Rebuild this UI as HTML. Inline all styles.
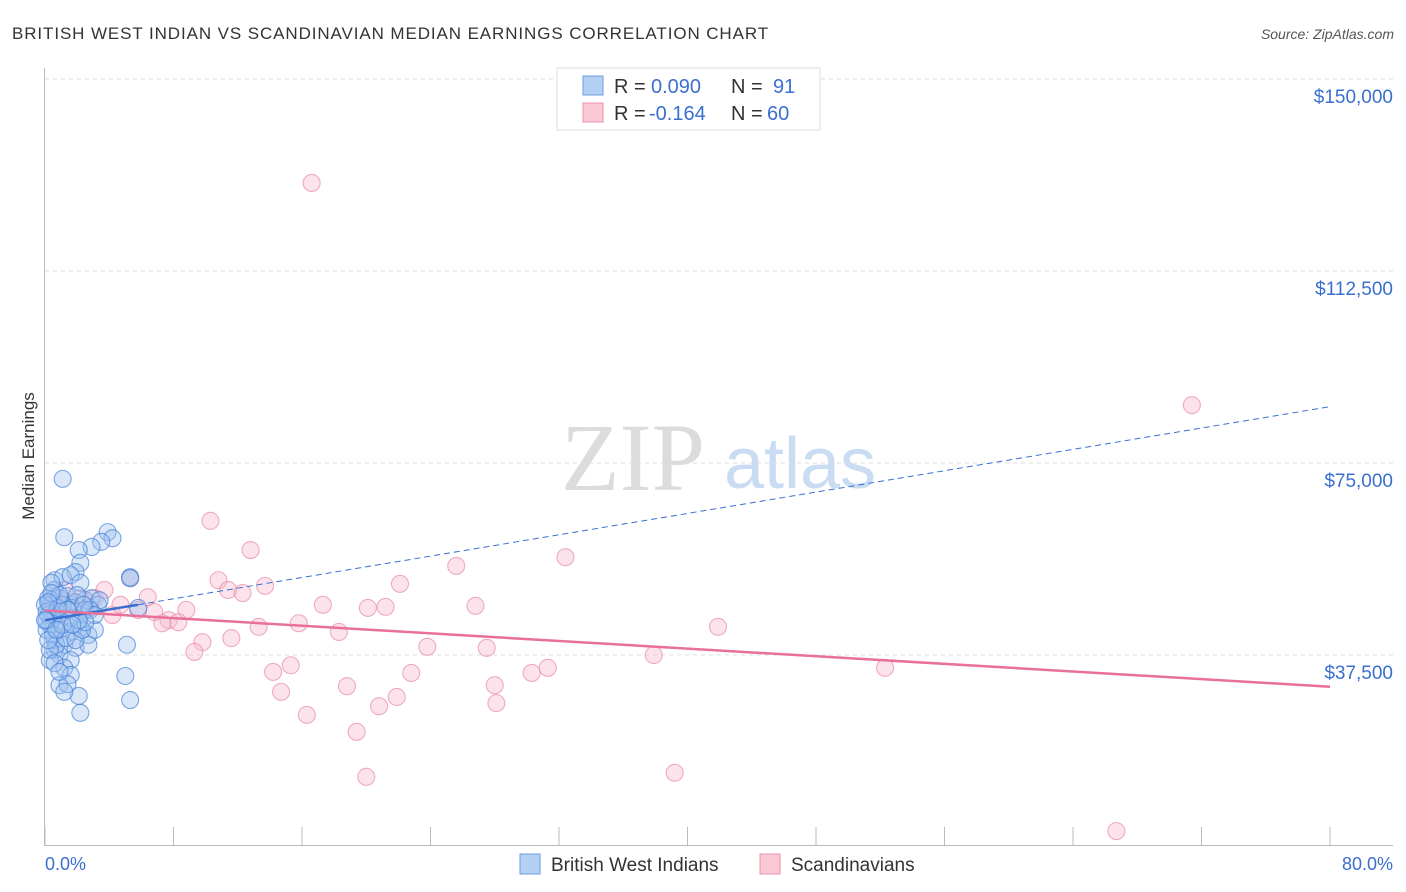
<!DOCTYPE html>
<html><head><meta charset="utf-8"><style>
body{margin:0;background:#fff;font-family:"Liberation Sans",sans-serif}
svg{display:block}
</style></head><body>
<svg id="chart" width="1406" height="892">
<text x="12" y="39" font-size="17" fill="#333" letter-spacing="0.9">BRITISH WEST INDIAN VS SCANDINAVIAN MEDIAN EARNINGS CORRELATION CHART</text>
<text x="1394" y="39" font-size="14" fill="#555" font-style="italic" text-anchor="end">Source: ZipAtlas.com</text>
<text transform="translate(34,456) rotate(-90)" font-size="17" fill="#333" text-anchor="middle">Median Earnings</text>
<g><text x="633" y="490" font-family="Liberation Serif,serif" font-size="96" fill="#dcdcdc" text-anchor="middle">ZIP</text><text x="800" y="488" font-size="72" fill="#c9dcf3" text-anchor="middle">atlas</text></g>
<g id="grid"></g><g id="axes"></g><g id="pts"></g><g id="lines"></g>
<g>
<rect x="557" y="68" width="263" height="62" fill="#fff" stroke="#ddd"/>
<rect x="583" y="76" width="20" height="19" fill="#b5d0f5" stroke="#6b9de0"/>
<rect x="583" y="103" width="20" height="19" fill="#fbc8d6" stroke="#e890a8"/>
<text x="614" y="93" font-size="20" fill="#333">R = <tspan fill="#3a6fd0" x="651">0.090</tspan><tspan x="731">N = </tspan><tspan fill="#3a6fd0" x="773">91</tspan></text>
<text x="614" y="120" font-size="20" fill="#333">R = <tspan fill="#3a6fd0" x="649">-0.164</tspan><tspan x="731">N = </tspan><tspan fill="#3a6fd0" x="767">60</tspan></text>
</g>
<g>
<rect x="520" y="854" width="20" height="20" fill="#b5d0f5" stroke="#6b9de0"/>
<text x="551" y="871" font-size="19" fill="#333">British West Indians</text>
<rect x="760" y="854" width="20" height="20" fill="#fbc8d6" stroke="#e890a8"/>
<text x="791" y="871" font-size="19" fill="#333">Scandinavians</text>
</g>
<text x="45" y="870" font-size="18" fill="#3a6fd0">0.0%</text>
<text x="1393" y="870" font-size="18" fill="#3a6fd0" text-anchor="end">80.0%</text>
</svg>
<script>
const yTicks=[150000,112500,75000,37500];
const yTickLabels=["$150,000","$112,500","$75,000","$37,500"];
const xTickPcts=[0,8,16,24,32,40,48,56,64,72,80];
const blueX=[1.1,1.2,3.9,4.2,3.5,2.9,2.1,2.2,1.9,5.3,0.6,1.1,1.6,2.2,0.6,0.4,0.9,1.4,1.9,2.5,2.9,3.3,5.3,5.8,0.3,0.6,0.9,1.6,2.2,0.3,0.9,1.6,2.2,2.7,3.1,0.6,1.2,1.9,2.7,5.1,0.6,0.9,1.6,0.3,1.2,1.6,5.0,0.9,1.4,2.1,1.2,5.3,2.2,0.3,0.2,0.4,0.1,0.8,1.1,1.7,2.5,3.4,0.2,0.0,0.1,0.1,0.5,0.7,1.3,1.9,2.3,2.8,3.1,0.3,2.5,2.1,0.6,0.9,1.4,0.0,0.2,0.4,0.8,1.1,1.7,2.0,2.4,0.9,0.4,0.2,0.7];
const blueY=[71.9,60.5,61.5,60.3,59.6,58.6,58.0,55.5,53.7,52.7,52.1,52.7,53.1,51.6,50.2,48.2,48.6,49.0,47.8,48.2,48.6,47.3,52.5,46.7,46.3,45.3,44.3,44.7,45.3,43.4,42.4,42.0,42.8,41.4,42.4,40.4,39.5,38.9,39.5,39.5,38.5,37.5,36.5,36.5,35.0,33.6,33.4,31.6,31.8,29.5,30.3,28.7,26.2,47.3,45.3,44.3,42.4,46.3,47.3,46.7,46.3,48.2,48.6,47.3,45.9,44.3,41.4,39.5,40.8,40.4,42.4,46.3,45.3,38.5,43.9,44.3,35.9,34.2,46.3,44.3,40.4,51.6,46.7,43.4,43.4,49.2,47.3,49.2,49.6,47.8,42.4];
const pinkX=[16.6,71.4,10.3,12.8,32.4,25.6,10.8,13.7,22.1,5.3,3.7,11.4,12.3,6.4,3.1,17.3,26.8,20.1,21.2,8.8,6.8,4.2,7.7,8.3,7.3,15.8,13.3,18.3,41.9,11.6,9.8,23.8,27.5,9.3,37.9,15.3,14.2,31.3,30.3,22.8,52.3,14.7,18.8,28.0,21.9,20.8,28.1,16.3,19.4,20.0,39.2,66.7,0.9,1.6,2.2,2.8,0.3,4.7,1.2,5.8];
const pinkY=[129.7,86.3,63.7,58.0,56.6,54.9,52.1,51.0,51.4,52.5,50.2,50.2,49.6,48.8,48.6,47.3,47.1,46.7,46.9,46.3,45.9,45.3,44.3,43.9,43.7,43.7,43.0,42.0,43.0,40.8,40.0,39.1,38.9,38.1,37.5,35.5,34.2,35.0,34.0,34.0,35.0,30.3,31.4,31.6,29.3,27.5,28.1,25.8,22.5,13.7,14.5,3.1,48.2,47.3,48.6,46.7,46.3,47.3,50.2,46.3];
const blueTrend=[44.3,86.0];
const pinkTrend=[46.2,31.3];
const NS="http://www.w3.org/2000/svg";
const X0=45,X1=1330,Y0=847,PXK=192/37.5;
const xs=p=>X0+(p/80)*(X1-X0);
const ys=k=>Y0-k*PXK;
function mk(tag,attrs,parent){const e=document.createElementNS(NS,tag);for(const k in attrs)e.setAttribute(k,attrs[k]);document.getElementById(parent).appendChild(e);return e;}
yTicks.forEach((v,i)=>{
 const g=mk('line',{x1:45,x2:1393,y1:ys(v/1000),y2:ys(v/1000),stroke:'#ddd','stroke-dasharray':'4,4'},'grid');
 
 
 const t=mk('text',{x:1393,y:ys(v/1000)+24,'font-size':19,fill:'#3a6fd0','text-anchor':'end'},'grid');
 t.textContent=yTickLabels[i];
 
 
});
let a=mk('line',{x1:44.5,x2:44.5,y1:68,y2:846,stroke:'#bbb'},'axes');


a=mk('line',{x1:44,x2:1393,y1:845.5,y2:845.5,stroke:'#bbb'},'axes');


xTickPcts.forEach(p=>{const t=mk('line',{x1:xs(p),x2:xs(p),y1:827,y2:846,stroke:'#bbb'},'axes');
 
 });
function pts(X,Y,fill,stroke,name){X.forEach((x,i)=>{const c=mk('circle',{cx:xs(x),cy:ys(Y[i]),r:8.5,fill:fill,stroke:stroke,'stroke-width':1.1},'pts');
 
 });}
pts(pinkX,pinkY,'rgba(248,185,205,0.4)','rgba(232,140,170,0.7)','scandinavian-point');
pts(blueX,blueY,'rgba(160,195,240,0.4)','rgba(70,130,215,0.7)','british-west-indian-point');
const bMax=Math.max(...blueX);
const bAt=p=>blueTrend[0]+(blueTrend[1]-blueTrend[0])*p/80;
let l=mk('line',{x1:xs(0),y1:ys(bAt(0)),x2:xs(bMax),y2:ys(bAt(bMax)),stroke:'#3a6fd0','stroke-width':2.5},'lines');


l=mk('line',{x1:xs(bMax),y1:ys(bAt(bMax)),x2:xs(80),y2:ys(bAt(80)),stroke:'#3a6fd0','stroke-width':1,'stroke-dasharray':'6,4'},'lines');


l=mk('line',{x1:xs(0),y1:ys(pinkTrend[0]),x2:xs(80),y2:ys(pinkTrend[1]),stroke:'#e8709a','stroke-width':2.5},'lines');


</script>
</body></html>
